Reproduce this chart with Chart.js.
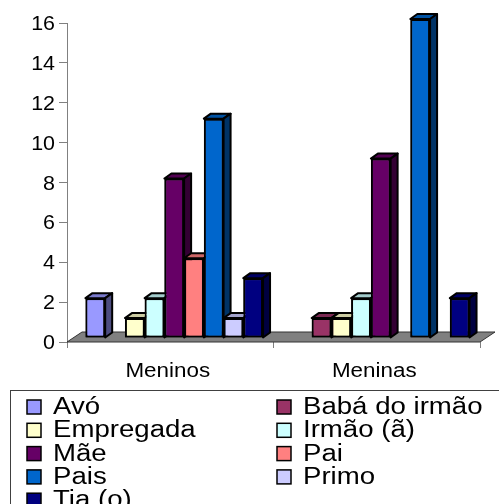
<!DOCTYPE html>
<html>
<head>
<meta charset="utf-8">
<script src="https://cdn.jsdelivr.net/npm/chart.js@4.4.1/dist/chart.umd.min.js"></script>
<style>
  html, body { margin: 0; padding: 0; background: #fff; overflow: hidden; }
  canvas { display: block; }
</style>
</head>
<body>
<canvas id="chart" width="499" height="504"></canvas>
<script>
// Who the children live with, split by boys / girls
const categories = ['Meninos', 'Meninas'];
const seriesNames = [
  'Avó', 'Babá do irmão', 'Empregada', 'Irmão (ã)', 'Mãe',
  'Pai', 'Pais', 'Primo', 'Tia (o)'
];
const meninos = [2, 0, 1, 2, 8, 4, 11, 1, 3];
const meninas = [0, 1, 1, 2, 9, 0, 16, 0, 2];
const yTicks  = [0, 2, 4, 6, 8, 10, 12, 14, 16];

// Classic office palette
const colors = [
  '#9999FF', '#993366', '#FFFFCC', '#CCFFFF', '#660066',
  '#FF8080', '#0066CC', '#CCCCFF', '#000080'
];

const FONT = "'Liberation Sans', Arial, sans-serif";
const DEPTH_X = 7;   // bar depth, to the right
const DEPTH_Y = -5;  // bar depth, upwards
const SHIFT_X = 4;   // bars sit mid-way on the floor
const SHIFT_Y = -4;

function shade(hex, f) {
  const n = parseInt(hex.slice(1), 16);
  const r = Math.round(((n >> 16) & 255) * f);
  const g = Math.round(((n >> 8) & 255) * f);
  const b = Math.round((n & 255) * f);
  return `rgb(${r},${g},${b})`;
}

function poly(ctx, pts, fill) {
  ctx.beginPath();
  ctx.moveTo(pts[0][0], pts[0][1]);
  for (let i = 1; i < pts.length; i++) ctx.lineTo(pts[i][0], pts[i][1]);
  ctx.closePath();
  ctx.fillStyle = fill;
  ctx.fill();
  ctx.stroke();
}

// Text drawn slightly widened, like the old office export
function wideText(ctx, text, x, y, size, sx, align) {
  ctx.save();
  ctx.translate(x, y);
  ctx.scale(sx, 1);
  ctx.font         = `${size}px ${FONT}`;
  ctx.textAlign    = align;
  ctx.textBaseline = 'alphabetic';
  ctx.fillStyle    = '#000';
  ctx.fillText(text, 0, 0);
  ctx.restore();
}

// Grey floor under the bars + top/side faces of every bar
const bars3d = {
  id: 'bars3d',
  beforeDatasetsDraw(chart) {
    const { ctx, chartArea: { left, right, bottom } } = chart;
    ctx.save();
    ctx.lineWidth   = 1;
    ctx.strokeStyle = '#333';
    poly(ctx, [
      [left, bottom], [right, bottom],
      [right + 15, bottom - 10], [left + 15, bottom - 10]
    ], '#808080');
    ctx.restore();

    ctx.save();
    ctx.translate(SHIFT_X, SHIFT_Y);
  },
  afterDatasetsDraw(chart) {
    const { ctx } = chart;
    ctx.lineWidth   = 2;
    ctx.lineJoin    = 'round';
    ctx.strokeStyle = '#000';
    for (let i = 0; i < categories.length; i++) {
      chart.data.datasets.forEach((ds, d) => {
        if (!ds.data[i]) return;
        const el = chart.getDatasetMeta(d).data[i];
        const { x, y, base, width } = el.getProps(['x', 'y', 'base', 'width'], true);
        const l = x - width / 2, r = x + width / 2;
        el.draw(ctx);
        poly(ctx, [[l, y], [l + DEPTH_X, y + DEPTH_Y], [r + DEPTH_X, y + DEPTH_Y], [r, y]],
          shade(colors[d], 0.8));
        poly(ctx, [[r, y], [r + DEPTH_X, y + DEPTH_Y], [r + DEPTH_X, base + DEPTH_Y], [r, base]],
          shade(colors[d], 0.5));
      });
    }
    ctx.restore();
  }
};

// Axis labels, placed from the chart's own scales
const axisLabels = {
  id: 'axisLabels',
  afterDraw(chart) {
    const { ctx, scales: { x, y } } = chart;
    yTicks.forEach(v => {
      wideText(ctx, String(v), 55, y.getPixelForValue(v) + 7, 19.5, 1.1, 'right');
    });
    categories.forEach((c, i) => {
      wideText(ctx, c, x.getPixelForValue(i) - 2.5, 377, 20, 1.12, 'center');
    });
  }
};

// Two-column boxed legend below the plot
const boxLegend = {
  id: 'boxLegend',
  afterDraw(chart) {
    const { ctx } = chart;
    ctx.save();
    ctx.lineWidth   = 1;
    ctx.strokeStyle = '#404040';
    ctx.strokeRect(10.5, 390.5, 560, 200);

    seriesNames.forEach((name, i) => {
      const cx = i % 2 === 0 ? 27 : 277;
      const by = 414 + Math.floor(i / 2) * 23.3;
      ctx.fillStyle   = colors[i];
      ctx.fillRect(cx, by - 14, 14, 14);
      ctx.lineWidth   = 1.5;
      ctx.strokeStyle = '#000';
      ctx.strokeRect(cx, by - 14, 14, 14);
      wideText(ctx, name, cx + 26, by, 23, 1.2, 'left');
    });
    ctx.restore();
  }
};

new Chart(document.getElementById('chart'), {
  type: 'bar',
  data: {
    labels: categories,
    datasets: seriesNames.map((name, i) => ({
      label:           name,
      data:            [meninos[i], meninas[i]],
      backgroundColor: colors[i],
      borderColor:     '#000',
      borderWidth:     2,
      borderSkipped:   false,
      clip:            false,
    })),
  },
  plugins: [bars3d, axisLabels, boxLegend],
  options: {
    responsive:         false,
    animation:          false,
    devicePixelRatio:   1,
    categoryPercentage: 0.86,
    barPercentage:      1.0,
    layout: { padding: { left: 0, top: 23, right: 19, bottom: 122 } },
    plugins: {
      legend:  { display: false },
      tooltip: { enabled: false },
    },
    scales: {
      y: {
        min: 0,
        max: 16,
        afterBuildTicks(scale) { scale.ticks = yTicks.map(v => ({ value: v })); },
        afterFit(scale) { scale.width = 67; },
        ticks:  { display: false },
        grid:   { drawOnChartArea: false, tickLength: 8, color: '#808080' },
        border: { color: '#808080', width: 1 },
      },
      x: {
        afterFit(scale) { scale.height = 40; },
        ticks:  { display: false },
        grid:   { offset: true, drawOnChartArea: false, tickLength: 6, color: '#808080' },
        border: { display: false },
      },
    },
  },
});
</script>
</body>
</html>
